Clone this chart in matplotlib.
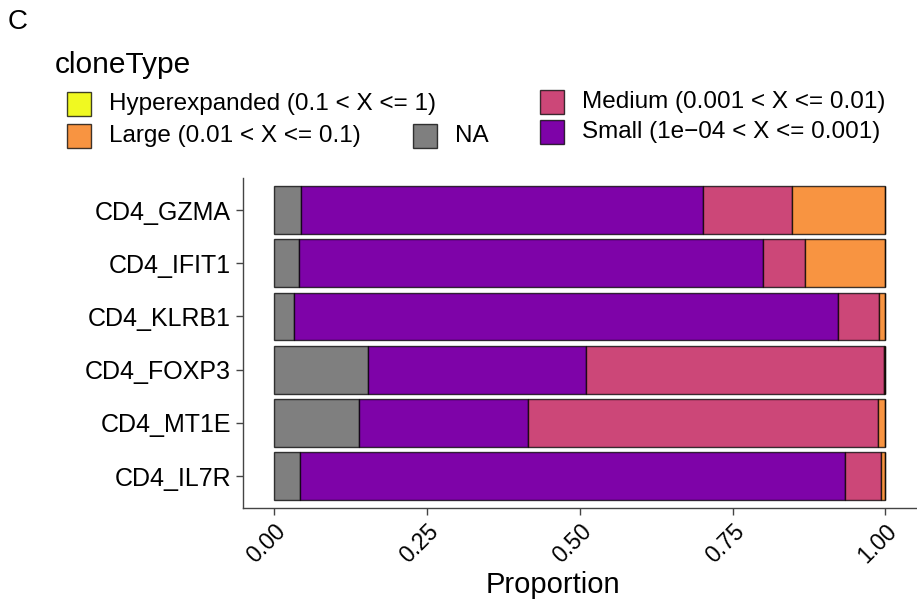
import matplotlib.pyplot as plt
from matplotlib.patches import Rectangle
import numpy as np

plt.rcParams['font.family'] = ['Liberation Sans', 'DejaVu Sans']

clusters = ['CD4_GZMA', 'CD4_IFIT1', 'CD4_KLRB1', 'CD4_FOXP3', 'CD4_MT1E', 'CD4_IL7R']
# proportions per clone type, stacked left -> right
na_prop = [0.044, 0.042, 0.034, 0.154, 0.140, 0.043]
small_prop = [0.657, 0.758, 0.888, 0.357, 0.276, 0.891]
medium_prop = [0.146, 0.069, 0.068, 0.486, 0.571, 0.059]
large_prop = [0.153, 0.131, 0.010, 0.003, 0.013, 0.007]
hyper_prop = [0.0, 0.0, 0.0, 0.0, 0.0, 0.0]

series = [
    ('NA', na_prop, '#7F7F7F'),
    ('Small (1e\u221204 < X <= 0.001)', small_prop, '#7E03A8'),
    ('Medium (0.001 < X <= 0.01)', medium_prop, '#CC4778'),
    ('Large (0.01 < X <= 0.1)', large_prop, '#F89441'),
    ('Hyperexpanded (0.1 < X <= 1)', hyper_prop, '#F0F921'),
]

fig = plt.figure(figsize=(9.17, 6.04), dpi=100)
ax = fig.add_axes([0.265, 0.159, 0.734, 0.546])

ypos = np.arange(len(clusters))[::-1] + 1
left = np.zeros(len(clusters))
for name, vals, col in series:
    vals = np.array(vals)
    ax.barh(ypos, vals, left=left, height=0.9, color=col,
            edgecolor=(0, 0, 0, 0.75), linewidth=1.0)
    left += vals

ax.set_xlim(-0.05, 1.05)
ax.set_ylim(0.4, 6.6)
ax.set_yticks(ypos)
ax.set_yticklabels(clusters, fontsize=18)
ax.set_xticks([0, 0.25, 0.5, 0.75, 1.0])
ax.set_xticklabels(['0.00', '0.25', '0.50', '0.75', '1.00'], fontsize=16.5,
                   rotation=45, ha='right', rotation_mode='anchor')
ax.set_xlabel('Proportion', fontsize=21, va='center')
ax.xaxis.set_label_coords(0.46, -0.235)
for s in ['top', 'right']:
    ax.spines[s].set_visible(False)
for s in ['left', 'bottom']:
    ax.spines[s].set_linewidth(1.0)
    ax.spines[s].set_color('#444444')
ax.tick_params(length=5, width=1.0, color='#444444', labelcolor='black')

# panel letter and legend
W, H = 917, 604
fig.text(8 / W, 1 - 22 / H, 'C', fontsize=20, va='center', ha='left')
fig.text(55 / W, 1 - 65 / H, 'cloneType', fontsize=21.5, va='center', ha='left')

legend_items = [
    ('Hyperexpanded (0.1 < X <= 1)', '#F0F921', 67, 104),
    ('Large (0.01 < X <= 0.1)', '#F89441', 67, 136),
    ('NA', '#7F7F7F', 413, 136),
    ('Medium (0.001 < X <= 0.01)', '#CC4778', 540, 102),
    ('Small (1e\u221204 < X <= 0.001)', '#7E03A8', 540, 132),
]
for label, col, kx, ky in legend_items:
    fig.patches.append(Rectangle(((kx) / W, 1 - (ky + 12) / H), 24 / W, 24 / H,
                                 transform=fig.transFigure, facecolor=col,
                                 edgecolor=(0, 0, 0, 0.75), linewidth=1.0))
    fig.text((kx + 42) / W, 1 - ky / H, label, fontsize=17.5, va='center', ha='left')

fig.savefig('out.png', dpi=100)
